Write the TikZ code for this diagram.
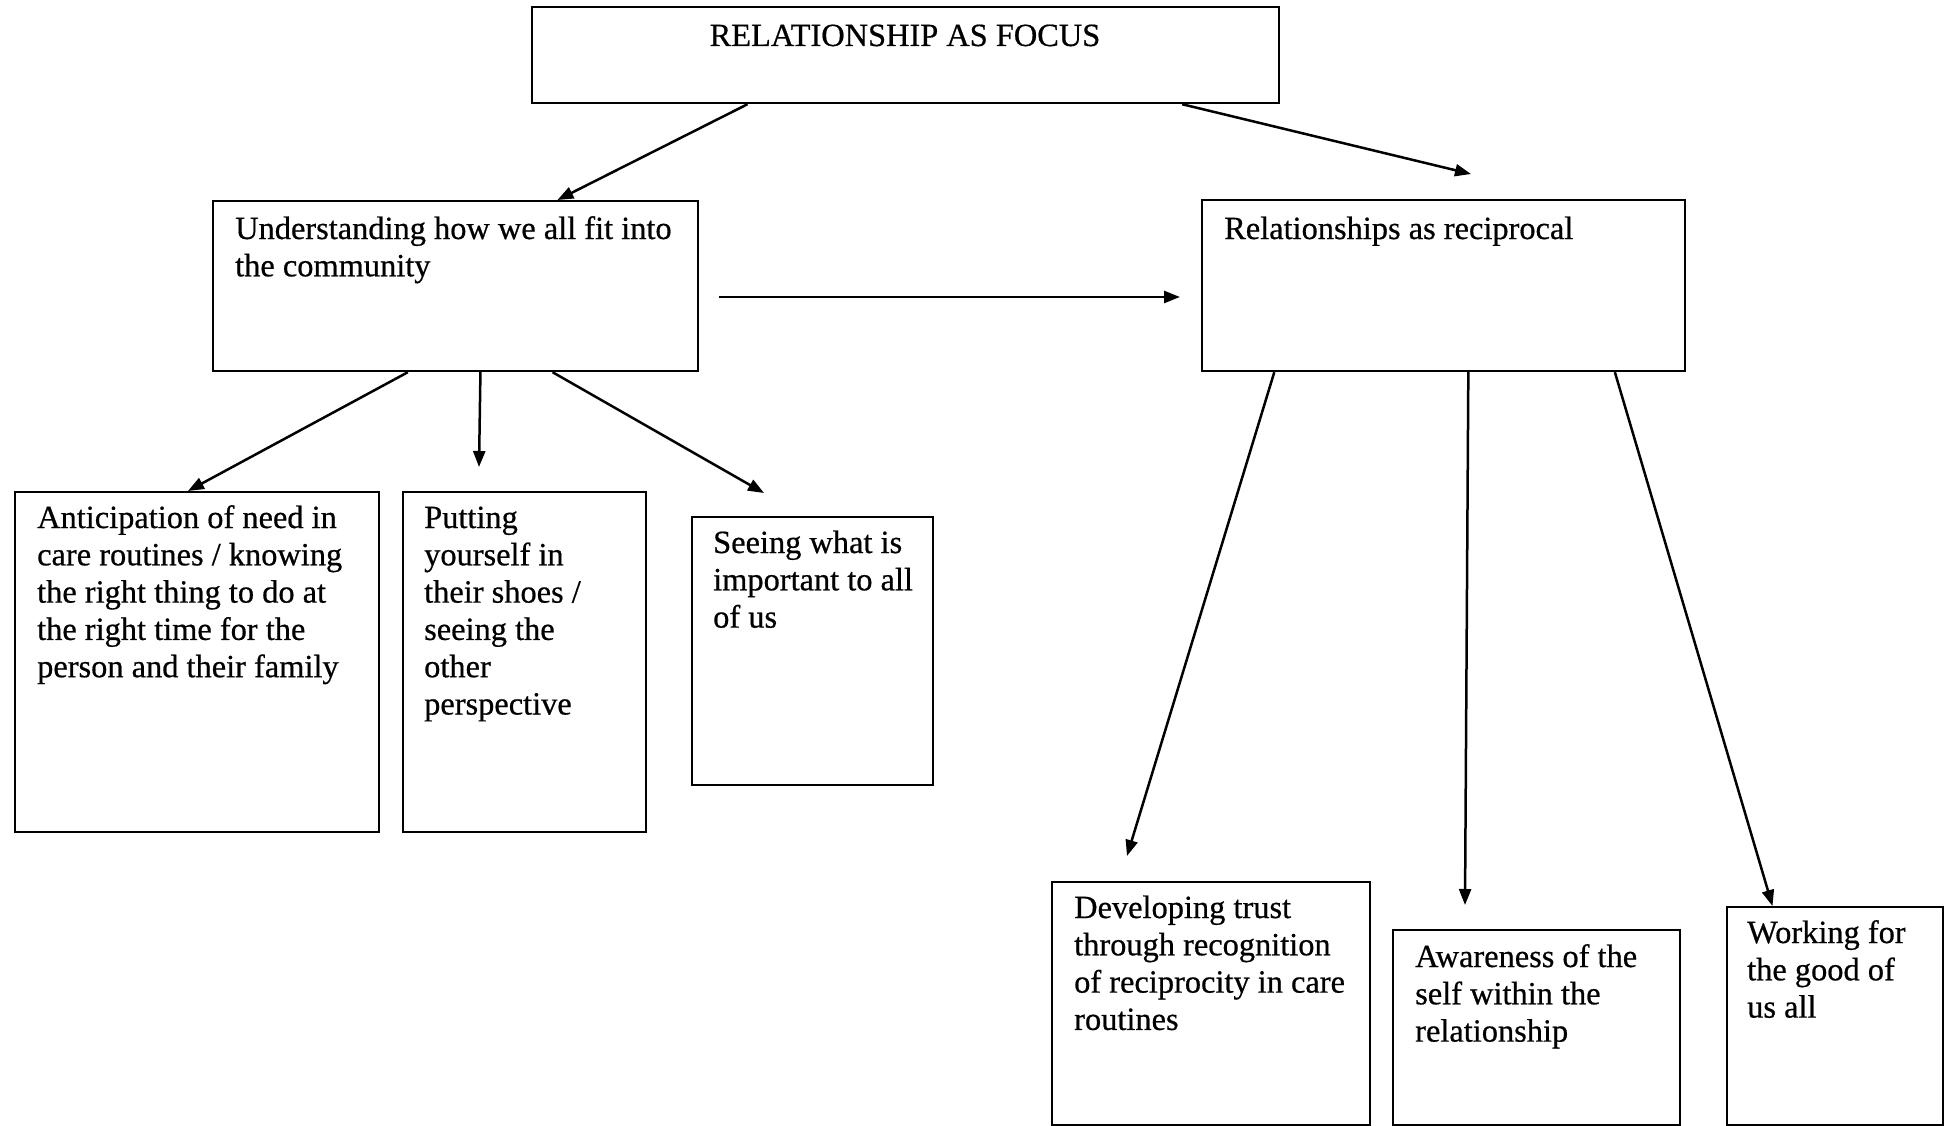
\documentclass[tikz,border=0pt]{standalone}
\usepackage{fontspec}
\setmainfont{Liberation Serif}[FakeBold=0.6]
\usetikzlibrary{arrows.meta,calc}
\newcommand{\lines}[1]{\begin{tabular}[t]{@{}l@{}}#1\end{tabular}}
\begin{document}
\begin{tikzpicture}[x=1pt,y=-1pt,
  box/.style={draw,line width=2.2pt,rectangle,anchor=north west,inner sep=0pt},
  txt/.style={anchor=base west,inner sep=0pt,font=\fontsize{32.4}{37.3}\selectfont},
  arr/.style={line width=2.5pt,-{Triangle[length=16pt,width=12pt]}}]
\useasboundingbox (0,0) rectangle (1951,1126);

% boxes
\node[box,minimum width=747pt,minimum height=96pt] (top) at (531,6) {};
\node[box,minimum width=485pt,minimum height=170pt] (und) at (212,200) {};
\node[box,minimum width=483pt,minimum height=171pt] (rel) at (1201,199) {};
\node[box,minimum width=364pt,minimum height=340pt] (ant) at (14,491) {};
\node[box,minimum width=243pt,minimum height=340pt] (put) at (402,491) {};
\node[box,minimum width=241pt,minimum height=268pt] (see) at (691,516) {};
\node[box,minimum width=318pt,minimum height=243pt] (dev) at (1051,881) {};
\node[box,minimum width=287pt,minimum height=195pt] (awa) at (1392,929) {};
\node[box,minimum width=216pt,minimum height=218pt] (wor) at (1726,906) {};

% texts
\node[txt,anchor=base] (ttop) at (905,46) {RELATIONSHIP AS FOCUS};
\node[txt] (tund) at (235,239) {\lines{Understanding how we all fit into\\the community}};
\node[txt] (trel) at (1224,239) {Relationships as reciprocal};
\node[txt] (tant) at (37,528) {\lines{Anticipation of need in\\care routines / knowing\\the right thing to do at\\the right time for the\\person and their family}};
\node[txt] (tput) at (424,528) {\lines{Putting\\yourself in\\their shoes /\\seeing the\\other\\perspective}};
\node[txt] (tsee) at (713,553) {\lines{Seeing what is\\important to all\\of us}};
\node[txt] (tdev) at (1074,918) {\lines{Developing trust\\through recognition\\of reciprocity in care\\routines}};
\node[txt] (tawa) at (1415,967) {\lines{Awareness of the\\self within the\\relationship}};
\node[txt] (twor) at (1747,943) {\lines{Working for\\the good of\\us all}};

% free ends
\coordinate (e2) at (1471,174);
\coordinate (h1) at (719,297);
\coordinate (h2) at (1180,297);
\coordinate (e5) at (479,467);
\coordinate (e6) at (764,493);
\coordinate (e7) at (1127,856);
\coordinate (e8) at (1465,905);

% connectors
\draw[arr] ($(top.south west)!0.289!(top.south east)$) -- ($(und.north west)!0.709!(und.north east)$);
\draw[arr] ($(top.south west)!0.869!(top.south east)$) -- (e2);
\draw[arr] (h1) -- (h2);
\draw[arr] ($(und.south west)!0.402!(und.south east)$) -- ($(ant.north west)!0.475!(ant.north east)$);
\draw[arr] ($(und.south west)!0.551!(und.south east)$) -- (e5);
\draw[arr] ($(und.south west)!0.699!(und.south east)$) -- (e6);
\draw[arr] ($(rel.south west)!0.151!(rel.south east)$) -- (e7);
\draw[arr] ($(rel.south west)!0.551!(rel.south east)$) -- (e8);
\draw[arr] ($(rel.south west)!0.853!(rel.south east)$) -- ($(wor.north west)!0.213!(wor.north east)$);
\end{tikzpicture}
\end{document}
